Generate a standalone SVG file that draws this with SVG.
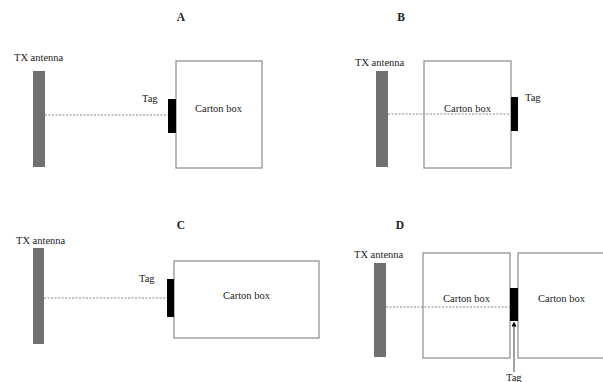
<svg xmlns="http://www.w3.org/2000/svg" width="603" height="382" viewBox="0 0 603 382">
<defs>
<style>
text{font-family:'Liberation Serif','Times New Roman',serif;font-size:10.5px;fill:#222}
.title{font-weight:bold;font-size:11.5px;text-anchor:middle}
.ant{fill:#707070}
.tag{fill:#000}
.box{fill:none;stroke:#8a8a8a;stroke-width:1.2}
.ray{stroke:#888;stroke-width:1;stroke-dasharray:2,1.5;fill:none}
.ptr{stroke:#444;stroke-width:1;fill:none}
</style>
<marker id="ah" viewBox="0 0 6 6" refX="3" refY="3" markerWidth="5" markerHeight="5" orient="auto-start-reverse" markerUnits="userSpaceOnUse">
<path d="M0,0 L6,3 L0,6 z" fill="#000"/>
</marker>
</defs>
<rect width="603" height="382" fill="#fff"/>

<g id="titles">
<text class="title" x="181" y="21">A</text>
<text class="title" x="401" y="21">B</text>
<text class="title" x="181" y="229">C</text>
<text class="title" x="400" y="229">D</text>
</g>

<g id="connectors">
<line class="ray" x1="45" y1="115" x2="168" y2="115"/>
<line class="ray" x1="388" y1="114" x2="511" y2="114"/>
<line class="ray" x1="44" y1="298" x2="167" y2="298"/>
<line class="ray" x1="386" y1="307" x2="510" y2="307"/>
<line class="ptr" x1="514" y1="372" x2="514" y2="324" marker-end="url(#ah)"/>
</g>

<g id="panelA">
<g id="A-antenna"><rect class="ant" x="33" y="71" width="12" height="96"/><text x="14" y="61">TX antenna</text></g>
<g id="A-box"><rect class="box" x="176" y="61" width="86" height="107"/><text x="195" y="112">Carton box</text></g>
<g id="A-tag"><rect class="tag" x="168" y="99" width="8" height="34"/><text x="142" y="102">Tag</text></g>
</g>

<g id="panelB">
<g id="B-antenna"><rect class="ant" x="376" y="71" width="12" height="96"/><text x="355" y="66">TX antenna</text></g>
<g id="B-box"><rect class="box" x="424" y="61" width="87" height="107"/><text x="444" y="112">Carton box</text></g>
<g id="B-tag"><rect class="tag" x="511" y="97" width="7" height="34"/><text x="525" y="101">Tag</text></g>
</g>

<g id="panelC">
<g id="C-antenna"><rect class="ant" x="33" y="248" width="11" height="96"/><text x="16" y="244">TX antenna</text></g>
<g id="C-box"><rect class="box" x="174" y="261" width="145" height="77"/><text x="223" y="299">Carton box</text></g>
<g id="C-tag"><rect class="tag" x="167" y="279" width="7" height="38"/><text x="139" y="282">Tag</text></g>
</g>

<g id="panelD">
<g id="D-antenna"><rect class="ant" x="374" y="263" width="12" height="94"/><text x="354" y="258">TX antenna</text></g>
<g id="D-box1"><rect class="box" x="423" y="253" width="87" height="105"/><text x="443" y="302">Carton box</text></g>
<g id="D-box2"><rect class="box" x="518" y="253" width="95" height="105"/><text x="538" y="302">Carton box</text></g>
<g id="D-tag"><rect class="tag" x="510" y="288" width="8" height="33"/><text x="506" y="381">Tag</text></g>
</g>
</svg>
